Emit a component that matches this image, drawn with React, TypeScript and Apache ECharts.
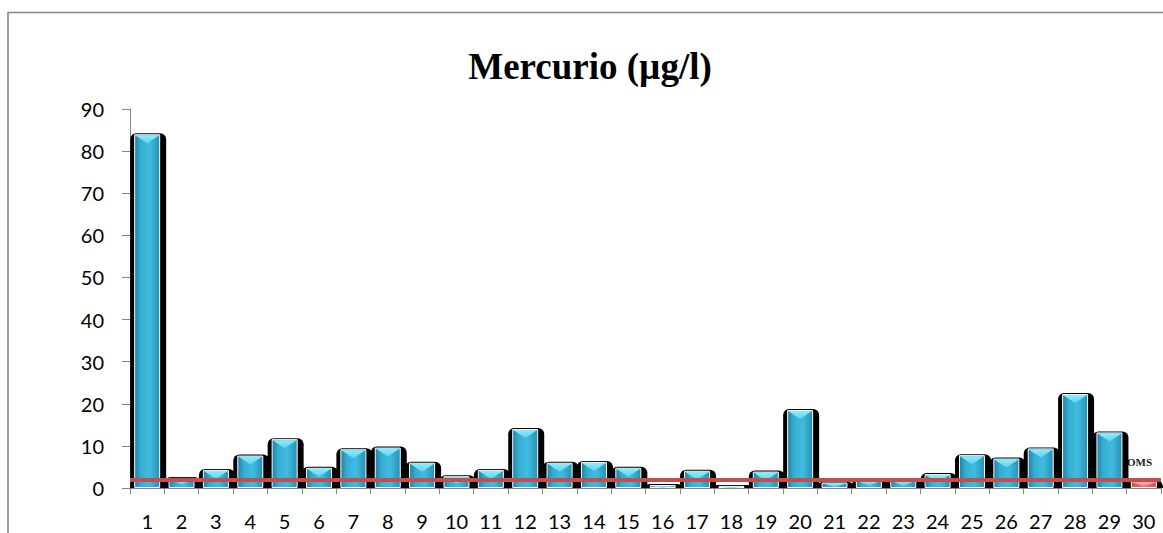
import React, { useEffect, useRef } from "react";
import * as echarts from "echarts";

// Sample points 1..30 and mercury concentration (µg/l) at each
const categories: string[] = Array.from({ length: 30 }, (_, i) => String(i + 1));
const mercury: number[] = [
  84, 2.4, 4.3, 7.7, 11.6, 4.8, 9.2, 9.6, 6.0, 2.8,
  4.3, 14.0, 6.0, 6.2, 4.8, 0.7, 4.1, 0.5, 3.9, 18.5,
  1.3, 1.9, 1.9, 3.3, 7.8, 7.0, 9.4, 22.3, 13.2, 1.6,
];
// WHO (OMS) guideline value
const omsLimit = 2;
const yTicks = { min: 0, max: 90, interval: 10 };

const BAR_W = 26;
const AXIS_COLOR = "#868686";

const blueFill = new echarts.graphic.LinearGradient(0, 0, 1, 0, [
  { offset: 0, color: "#1f82a6" },
  { offset: 0.25, color: "#36aed2" },
  { offset: 0.6, color: "#40bce0" },
  { offset: 1, color: "#2790b4" },
]);
const redFill = new echarts.graphic.LinearGradient(0, 0, 1, 0, [
  { offset: 0, color: "#c94f4f" },
  { offset: 0.5, color: "#e87474" },
  { offset: 1, color: "#cc5555" },
]);

export default function App() {
  const ref = useRef<HTMLDivElement>(null);

  useEffect(() => {
    if (!ref.current) return;
    const chart = echarts.init(ref.current, undefined, { renderer: "svg" });

    const pairs = mercury.map((v, i) => [i, v]);

    const option: echarts.EChartsOption = {
      animation: false,
      backgroundColor: "#ffffff",
      grid: { left: 130, right: 2, top: 109, bottom: 45, containLabel: false },
      graphic: [
        {
          type: "rect",
          z: -10,
          shape: { x: 8, y: 12.5, width: 1400, height: 800 },
          style: { fill: "none", stroke: AXIS_COLOR, lineWidth: 1.6 },
        },
        {
          type: "text",
          x: 590,
          y: 66,
          style: {
            text: "Mercurio (µg/l)",
            font: "bold 37px 'Liberation Serif', 'Times New Roman', serif",
            fill: "#000",
            textAlign: "center",
            textVerticalAlign: "middle",
          },
        },
        {
          type: "text",
          x: 1152,
          y: 462,
          z: -1,
          style: {
            text: "OMS",
            font: "bold 11px 'Liberation Serif', 'Times New Roman', serif",
            fill: "#222",
            textAlign: "right",
            textVerticalAlign: "middle",
          },
        },
      ],
      xAxis: {
        type: "category",
        data: categories,
        boundaryGap: true,
        axisLine: { lineStyle: { color: AXIS_COLOR, width: 1 } },
        axisTick: { show: true, alignWithLabel: false, length: 6, lineStyle: { color: AXIS_COLOR } },
        axisLabel: {
          interval: 0,
          margin: 23,
          fontSize: 20,
          lineHeight: 20,
          fontFamily: "Lato, 'Open Sans', sans-serif",
          color: "#000",
        },
        splitLine: { show: false },
      },
      yAxis: {
        type: "value",
        min: yTicks.min,
        max: yTicks.max,
        interval: yTicks.interval,
        axisLine: { show: true, lineStyle: { color: AXIS_COLOR, width: 1 } },
        axisTick: { show: true, inside: false, length: 8, lineStyle: { color: AXIS_COLOR } },
        axisLabel: {
          margin: 26,
          fontSize: 20,
          fontFamily: "Lato, 'Open Sans', sans-serif",
          color: "#000",
        },
        splitLine: { show: false },
      },
      series: [
        {
          // dark backdrop behind each column
          type: "custom",
          z: 1,
          silent: true,
          data: pairs,
          encode: { x: 0, y: 1 },
          renderItem: (_params: any, api: any) => {
            const i = api.value(0);
            const v = api.value(1);
            const top = api.coord([i, v]);
            const base = api.coord([i, 0]);
            const h = base[1] - top[1];
            return {
              type: "rect",
              shape: {
                x: top[0] - BAR_W / 2 - 4,
                y: top[1] - 1,
                width: BAR_W + 10,
                height: h + 1,
                r: [6, 6, 0, 0],
              },
              style: { fill: "#000" },
            };
          },
        },
        {
          name: "Mercurio",
          type: "bar",
          z: 2,
          barWidth: BAR_W,
          data: mercury.map((v, i) => ({
            value: v,
            itemStyle: {
              color: i === mercury.length - 1 ? redFill : blueFill,
              borderColor: "#ffffff",
              borderWidth: 1,
            },
          })),
        },
        {
          // bevelled top facet of each column, plus the guideline
          type: "custom",
          z: 3,
          silent: true,
          data: pairs,
          encode: { x: 0, y: 1 },
          renderItem: (params: any, api: any) => {
            const i = api.value(0);
            const v = api.value(1);
            const top = api.coord([i, v]);
            const base = api.coord([i, 0]);
            const h = base[1] - top[1];
            const th = Math.min(8, h * 0.55);
            const x0 = top[0] - BAR_W / 2 + 1;
            const x1 = top[0] + BAR_W / 2 - 1;
            const isRed = params.dataIndex === mercury.length - 1;
            return {
              type: "polygon",
              shape: {
                points: [
                  [x0, top[1] + 1],
                  [x1, top[1] + 1],
                  [top[0], top[1] + 1 + th],
                ],
              },
              style: {
                fill: new echarts.graphic.LinearGradient(0, 0, 0, 1, [
                  { offset: 0, color: isRed ? "#f8b0b0" : "#8eecfb" },
                  { offset: 1, color: isRed ? "#ee8c8c" : "#5ed2ee" },
                ]),
              },
            };
          },
          markLine: {
            silent: true,
            symbol: "none",
            label: { show: false },
            lineStyle: { color: "#c0504d", width: 4, type: "solid", opacity: 1 },
            data: [{ yAxis: omsLimit }],
          },
        },
      ],
    };

    chart.setOption(option);
    return () => chart.dispose();
  }, []);

  return (
    <div
      ref={ref}
      style={{ position: "absolute", left: 0, top: 0, width: 1163, height: 533, overflow: "hidden" }}
    />
  );
}
